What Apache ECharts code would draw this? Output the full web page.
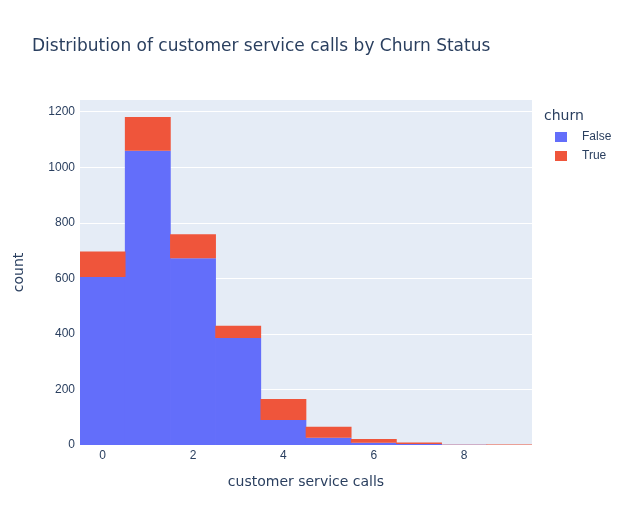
<!DOCTYPE html>
<html><head><meta charset="utf-8">
<script src="https://cdn.jsdelivr.net/npm/echarts@6/dist/echarts.min.js"></script>
<style>html,body{margin:0;padding:0;background:#fff}#c{width:629px;height:525px}</style>
</head><body><div id="c"></div>
<script>
const categories = ['0','1','2','3','4','5','6','7','8','9'];
const falseCounts = [605, 1059, 672, 385, 90, 26, 8, 4, 1, 0];
const trueCounts = [92, 122, 87, 44, 76, 40, 14, 5, 1, 2];
const seriesNames = ['False', 'True'];
const yTicks = [0, 200, 400, 600, 800, 1000, 1200];

const font = '"DejaVu Sans", verdana, sans-serif';
const tickFont = '"Liberation Sans", Arial, sans-serif';
const txt = '#2a3f5f';
const chart = echarts.init(document.getElementById('c'), null, {renderer: 'canvas'});
chart.setOption({
  animation: false,
  textStyle: {fontFamily: font},
  title: [
    {text: 'Distribution of customer service calls by Churn Status', left: 27, top: 33,
     textStyle: {fontFamily: font, fontSize: 17, fontWeight: 'normal', color: txt}},
    {text: 'churn', left: 539, top: 104,
     textStyle: {fontFamily: font, fontSize: 14, fontWeight: 'normal', color: txt}}
  ],
  legend: {
    orient: 'vertical', left: 550, top: 126, icon: 'rect', itemWidth: 12, itemHeight: 10,
    itemGap: 7, textStyle: {fontFamily: tickFont, fontSize: 12, color: txt, padding: [0,0,0,10]},
    data: seriesNames
  },
  grid: {left: 80, right: 97, top: 100, bottom: 80, show: true, backgroundColor: '#E5ECF6', borderWidth: 0},
  xAxis: {
    type: 'category', data: categories, boundaryGap: true,
    name: 'customer service calls', nameLocation: 'middle', nameGap: 30,
    nameTextStyle: {fontFamily: font, fontSize: 14, color: txt},
    axisLine: {show: false}, axisTick: {show: false},
    axisLabel: {interval: 1, fontFamily: tickFont, fontSize: 12, color: txt, margin: 5},
    splitLine: {show: false}
  },
  yAxis: {
    type: 'value', min: 0, max: 1242, interval: 200,
    name: 'count', nameLocation: 'middle', nameGap: 54,
    nameTextStyle: {fontFamily: font, fontSize: 14, color: txt},
    axisLine: {show: false}, axisTick: {show: false},
    axisLabel: {fontFamily: tickFont, fontSize: 12, color: txt, margin: 5, showMaxLabel: false,
      formatter: v => yTicks.includes(v) ? String(v) : ''},
    splitLine: {show: true, showMinLine: false, showMaxLine: false, lineStyle: {color: '#ffffff', width: 1}}
  },
  series: [
    {name: seriesNames[0], type: 'bar', stack: 'a', data: falseCounts, barWidth: '101.5%', barCategoryGap: 0,
     itemStyle: {color: '#636efa'}},
    {name: seriesNames[1], type: 'bar', stack: 'a', data: trueCounts, barWidth: '101.5%', barCategoryGap: 0,
     itemStyle: {color: '#EF553B'}}
  ]
});
</script></body></html>
